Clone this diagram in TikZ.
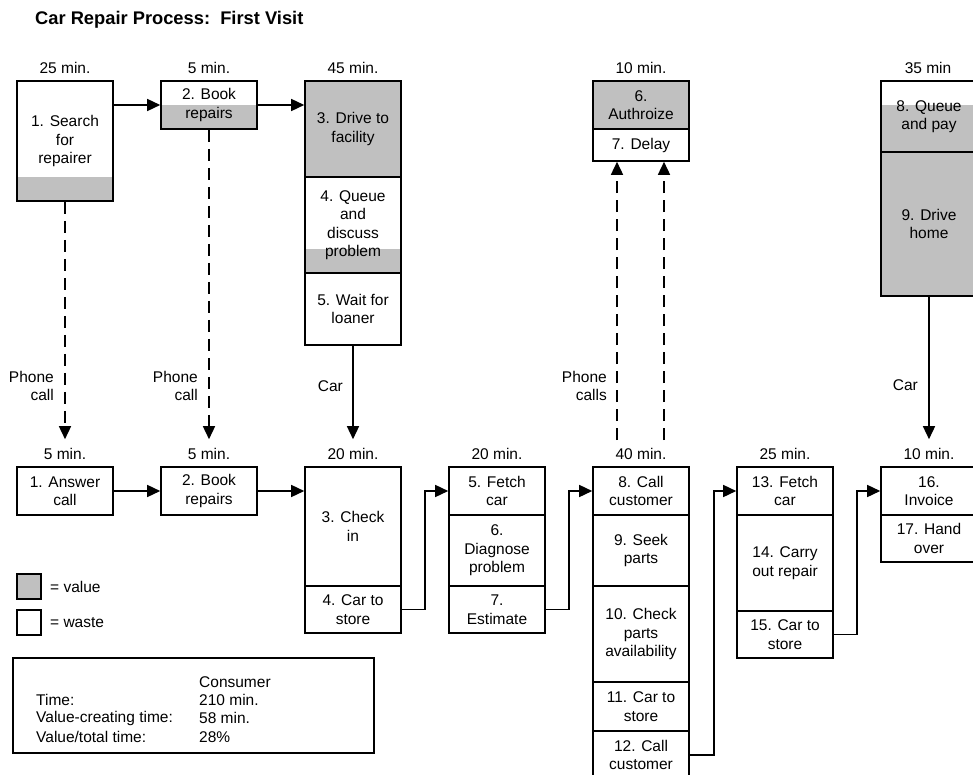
\documentclass[tikz,border=0pt]{standalone}
\usepackage{fontspec}
\setmainfont{Liberation Sans}
\usetikzlibrary{arrows.meta}
\definecolor{valgray}{RGB}{192,192,192}
\tikzset{
  every node/.style={font=\fontsize{15.5}{18.5}\selectfont},
  box/.style={draw, line width=1.6pt, align=center, inner sep=0pt, minimum width=96pt},
  vbox/.style={box, fill=valgray},
  lbl/.style={inner sep=0pt, align=center},
  flow/.style={line width=1.5pt, -{Triangle[length=13pt,width=12pt]}},
  phone/.style={flow, dash pattern=on 12pt off 7pt},
}
\begin{document}
\begin{tikzpicture}[x=1pt,y=-1pt]
\useasboundingbox (0,0) rectangle (973,775);
\clip (0,0) rectangle (973,775);

% title
\node[anchor=west, inner sep=0pt, font=\bfseries\fontsize{18.3}{20}\selectfont] (title) at (35,20) {Car Repair Process:\ \ First Visit};

% ---- top row: gray partial fills
\fill[valgray] (17,177) rectangle (113,201);
\fill[valgray] (161,105) rectangle (257,129);
\fill[valgray] (305,249) rectangle (401,273);
\fill[valgray] (881,105) rectangle (977,152);

% time labels top
\node[lbl] (mt1) at (65,68) {25 min.};
\node[lbl] (mt2) at (209,68) {5 min.};
\node[lbl] (mt3) at (353,68) {45 min.};
\node[lbl] (mt6) at (641,68) {10 min.};
\node[lbl] (mt8) at (928,68) {35 min};

% top boxes
\node[box, minimum height=120pt] (t1) at (65,141) {1. Search\\for\\repairer};
\node[box, minimum height=48pt] (t2) at (209,105) {2. Book\\repairs};
\node[vbox, minimum height=96pt] (t3) at (353,129) {3. Drive to\\facility};
\node[box, minimum height=96pt] (t4) at (353,225) {4. Queue\\and\\discuss\\problem};
\node[box, minimum height=72pt] (t5) at (353,309) {5. Wait for\\loaner};
\node[vbox, minimum height=48pt] (t6) at (641,105) {6.\\Authroize};
\node[box, minimum height=32pt] (t7) at (641,145) {7. Delay};
\node[box, minimum height=71pt] (t8) at (929,116.5) {8. Queue\\and pay};
\node[vbox, minimum height=144pt] (t9) at (929,224) {9. Drive\\home};

% top arrows
\draw[flow] (t1.east |- t2.west) -- (t2.west);
\draw[flow] (t2.east) -- (t2.east -| t3.west);

% time labels bottom
\node[lbl] (mb1) at (65,454) {5 min.};
\node[lbl] (mb2) at (209,454) {5 min.};
\node[lbl] (mb3) at (353,454) {20 min.};
\node[lbl] (mb5) at (497,454) {20 min.};
\node[lbl] (mb8) at (641,454) {40 min.};
\node[lbl] (mb13) at (785,454) {25 min.};
\node[lbl] (mb16) at (929,454) {10 min.};

% bottom boxes
\node[box, minimum height=48pt] (b1) at (65,491) {1. Answer\\call};
\node[box, minimum height=48pt] (b2) at (209,491) {2. Book\\repairs};
\node[box, minimum height=119pt] (b3) at (353,526.5) {3. Check\\in};
\node[box, minimum height=47pt] (b4) at (353,609.5) {4. Car to\\store};
\node[box, minimum height=48pt] (b5) at (497,491) {5. Fetch\\car};
\node[box, minimum height=71pt] (b6) at (497,550.5) {6.\\Diagnose\\problem};
\node[box, minimum height=47pt] (b7) at (497,609.5) {7.\\Estimate};
\node[box, minimum height=48pt] (b8) at (641,491) {8. Call\\customer};
\node[box, minimum height=71pt] (b9) at (641,550.5) {9. Seek\\parts};
\node[box, minimum height=96pt] (b10) at (641,634) {10. Check\\parts\\availability};
\node[box, minimum height=49pt] (b11) at (641,706.5) {11. Car to\\store};
\node[box, minimum height=48pt] (b12) at (641,755) {12. Call\\customer};
\node[box, minimum height=48pt] (b13) at (785,491) {13. Fetch\\car};
\node[box, minimum height=96pt] (b14) at (785,563) {14. Carry\\out repair};
\node[box, minimum height=47pt] (b15) at (785,634.5) {15. Car to\\store};
\node[box, minimum height=48pt] (b16) at (929,491) {16.\\Invoice};
\node[box, minimum height=47pt] (b17) at (929,538.5) {17. Hand\\over};

% bottom arrows
\draw[flow] (b1.east) -- (b2.west);
\draw[flow] (b2.east) -- (b2.east -| b3.west);
\draw[flow] (b4.east) -- ++(23,0) |- (b5.west);
\draw[flow] (b7.east) -- ++(23,0) |- (b8.west);
\draw[flow] (b12.east) -- ++(24,0) |- (b13.west);
\draw[flow] (b15.east) -- ++(23,0) |- (b16.west);

% vertical connectors
\draw[phone, shorten >=27pt] (t1.south) -- (b1.north);
\draw[phone, shorten >=27pt] (t2.south) -- (b2.north);
\draw[flow, shorten >=27pt] (t5.south) -- (b3.north);
\draw[flow, shorten >=27pt] (t9.south) -- (b16.north);
\draw[phone, shorten <=26pt] ([xshift=-24pt]b8.north) -- ([xshift=-24pt]t7.south);
\draw[phone, shorten <=26pt] ([xshift=23pt]b8.north) -- ([xshift=23pt]t7.south);

% connector labels
\node[lbl, anchor=east, align=right] (pc1) at (54,386) {Phone\\call};
\node[lbl, anchor=east, align=right] (pc2) at (198,386) {Phone\\call};
\node[lbl, anchor=east] (car1) at (343,386) {Car};
\node[lbl, anchor=east, align=right] (pc3) at (607,386) {Phone\\calls};
\node[lbl, anchor=east] (car2) at (918,385) {Car};

% legend
\node[box, fill=valgray, minimum width=24pt, minimum height=25pt] (lgv) at (29,586.5) {};
\node[lbl, anchor=west] (lgvt) at (50,586.5) {= value};
\node[box, minimum width=24pt, minimum height=25pt] (lgw) at (29,622.5) {};
\node[lbl, anchor=west] (lgwt) at (50,622.5) {= waste};

% summary
\node[box, minimum width=361pt, minimum height=95pt] (sum) at (193.5,705.5) {};
\node[lbl, anchor=west] (s0) at (199,682) {Consumer};
\node[lbl, anchor=west] (s1) at (36,700) {Time:};
\node[lbl, anchor=west] (s1v) at (199,700) {210 min.};
\node[lbl, anchor=west] (s2) at (36,718) {Value-creating time:};
\node[lbl, anchor=west] (s2v) at (199,718) {58 min.};
\node[lbl, anchor=west] (s3) at (36,737) {Value/total time:};
\node[lbl, anchor=west] (s3v) at (199,737) {28\%};
\end{tikzpicture}
\end{document}
